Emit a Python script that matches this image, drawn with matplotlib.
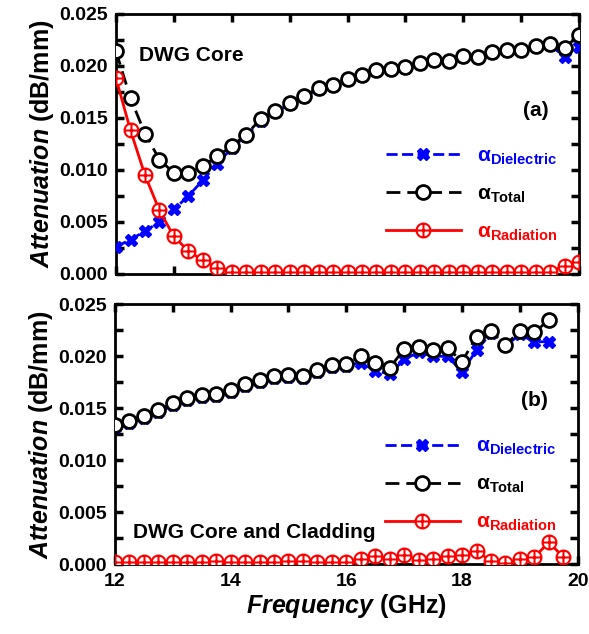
import numpy as np
import matplotlib
matplotlib.use("Agg")
import matplotlib.pyplot as plt
from matplotlib.path import Path
from matplotlib.ticker import MultipleLocator, FormatStrFormatter

plt.rcParams['font.family'] = ['Liberation Sans', 'DejaVu Sans']
plt.rcParams['font.weight'] = 'bold'
plt.rcParams['axes.labelweight'] = 'bold'
plt.rcParams['mathtext.fontset'] = 'custom'
plt.rcParams['mathtext.rm'] = 'Liberation Sans:bold'
plt.rcParams['mathtext.it'] = 'Liberation Sans:bold:italic'
plt.rcParams['mathtext.bf'] = 'Liberation Sans:bold'

# -----------------------------
# Data (a) : DWG core
# -----------------------------
freq_a = [12.0, 12.25, 12.5, 12.75, 13.0, 13.25, 13.5, 13.75, 14.0, 14.25, 14.5,
          14.75, 15.0, 15.25, 15.5, 15.75, 16.0, 16.25, 16.5, 16.75, 17.0, 17.25,
          17.5, 17.75, 18.0, 18.25, 18.5, 18.75, 19.0, 19.25, 19.5, 19.75, 20.0]
total_a = [0.0214, 0.0169, 0.0135, 0.0110, 0.0097, 0.0097, 0.0104, 0.0113, 0.0123,
           0.0134, 0.0149, 0.0157, 0.0164, 0.0171, 0.0179, 0.0182, 0.0187, 0.0191,
           0.0196, 0.0197, 0.0199, 0.0203, 0.0206, 0.0205, 0.0210, 0.0209, 0.0213,
           0.0215, 0.0215, 0.0219, 0.0221, 0.0217, 0.0230]
diel_a = [0.0026, 0.0033, 0.0041, 0.0050, 0.0062, 0.0075, 0.0090, 0.0106, 0.0121,
          0.0133, 0.0147, 0.0156, 0.0163, 0.0170, 0.0178, 0.0181, 0.0186, 0.0190,
          0.0195, 0.0196, 0.0198, 0.0202, 0.0205, 0.0204, 0.0209, 0.0208, 0.0212,
          0.0214, 0.0214, 0.0218, 0.0220, 0.0209, 0.0218]
rad_a = [0.0188, 0.0138, 0.0095, 0.0061, 0.0036, 0.0022, 0.0013, 0.0006, 0.0002,
         0.0002, 0.0002, 0.0002, 0.0002, 0.0002, 0.0002, 0.0002, 0.0002, 0.0002,
         0.0002, 0.0002, 0.0002, 0.0002, 0.0002, 0.0002, 0.0002, 0.0002, 0.0002,
         0.0002, 0.0002, 0.0002, 0.0002, 0.0008, 0.0011]

# -----------------------------
# Data (b) : DWG core + cladding
# -----------------------------
freq_b = [12.0, 12.25, 12.5, 12.75, 13.0, 13.25, 13.5, 13.75, 14.0, 14.25, 14.5,
          14.75, 15.0, 15.25, 15.5, 15.75, 16.0, 16.25, 16.5, 16.75, 17.0, 17.25,
          17.5, 17.75, 18.0, 18.25, 18.5, 18.75, 19.0, 19.25, 19.5]
total_b = [0.0134, 0.0138, 0.0143, 0.0148, 0.0155, 0.0160, 0.0163, 0.0164, 0.0168,
           0.0173, 0.0177, 0.0181, 0.0182, 0.0181, 0.0187, 0.0192, 0.0193, 0.0200,
           0.0194, 0.0189, 0.0207, 0.0209, 0.0206, 0.0208, 0.0195, 0.0219, 0.0224,
           0.0211, 0.0224, 0.0223, 0.0235]
diel_b = [0.0132, 0.0136, 0.0141, 0.0146, 0.0153, 0.0158, 0.0161, 0.0162, 0.0166,
          0.0171, 0.0175, 0.0179, 0.0180, 0.0179, 0.0185, 0.0190, 0.0191, 0.0194,
          0.0186, 0.0183, 0.0197, 0.0204, 0.0200, 0.0200, 0.0185, 0.0206, 0.0222,
          0.0210, 0.0221, 0.0214, 0.0214]
freq_rb = [12.0, 12.25, 12.5, 12.75, 13.0, 13.25, 13.5, 13.75, 14.0, 14.25, 14.5,
           14.75, 15.0, 15.25, 15.5, 15.75, 16.0, 16.25, 16.5, 16.75, 17.0, 17.25,
           17.5, 17.75, 18.0, 18.25, 18.5, 18.75, 19.0, 19.25, 19.5, 19.75]
rad_b = [0.0002, 0.0002, 0.0002, 0.0002, 0.0002, 0.0002, 0.0002, 0.0003, 0.0002,
         0.0002, 0.0002, 0.0002, 0.0003, 0.0003, 0.0002, 0.0002, 0.0002, 0.0005,
         0.0008, 0.0005, 0.0009, 0.0004, 0.0005, 0.0008, 0.0009, 0.0013, 0.0003,
         0.0001, 0.0005, 0.0007, 0.0021, 0.0007]

# marqueur cercle + croix
circ = Path.unit_circle()
plus = Path([(-1, 0), (1, 0), (0, -1), (0, 1)],
            [Path.MOVETO, Path.LINETO, Path.MOVETO, Path.LINETO])
oplus = Path.make_compound_path(circ, plus)

fig = plt.figure(figsize=(5.89, 6.34), dpi=100)
ax1 = fig.add_axes([0.197, 0.568, 0.786, 0.410])
ax2 = fig.add_axes([0.195, 0.110, 0.786, 0.410])

labels = [r'$\mathrm{\alpha}_{\mathrm{Dielectric}}$', r'$\mathrm{\alpha}_{\mathrm{Total}}$',
          r'$\mathrm{\alpha}_{\mathrm{Radiation}}$']

def draw(ax, fd, d, t, fr, r):
    h1, = ax.plot(fd, d, color='blue', ls=(0, (4, 1.6)), lw=2, marker='X',
                  ms=9, mec='blue', mfc='blue', zorder=3)
    h2, = ax.plot(fd, t, color='black', ls=(0, (5, 2.5)), lw=2, marker='o',
                  ms=10, mec='black', mfc='white', mew=2, zorder=4)
    h3, = ax.plot(fr, r, color='red', ls='-', lw=2, marker=oplus,
                  ms=10, mec='red', mfc='white', mew=1.5, zorder=5)
    ax.set_xlim(12, 20)
    ax.set_ylim(0, 0.025)
    ax.xaxis.set_major_locator(MultipleLocator(2))
    ax.xaxis.set_minor_locator(MultipleLocator(1))
    ax.yaxis.set_major_locator(MultipleLocator(0.005))
    ax.yaxis.set_minor_locator(MultipleLocator(0.0025))
    ax.yaxis.set_major_formatter(FormatStrFormatter('%.3f'))
    ax.tick_params(which='both', direction='in', top=True, right=True,
                   length=6, width=2.5, labelsize=14, pad=6)
    for s in ax.spines.values():
        s.set_linewidth(2)
    ax.set_ylabel(r'$\mathit{Attenuation}$ (dB/mm)', fontsize=18, labelpad=2)
    ax.legend([h1, h2, h3], labels, loc='upper left', bbox_to_anchor=(0.56, 0.53),
              frameon=False, fontsize=15, handlelength=3.6, labelspacing=0.85,
              labelcolor='linecolor', borderpad=0)
    return ax

draw(ax1, freq_a, diel_a, total_a, freq_a, rad_a)
draw(ax2, freq_b, diel_b, total_b, freq_rb, rad_b)
ax1.tick_params(labelbottom=False)

ax1.text(0.05, 0.84, 'DWG Core', transform=ax1.transAxes, fontsize=15, va='center')
ax1.text(0.935, 0.63, '(a)', transform=ax1.transAxes, fontsize=15, ha='right', va='center')
ax2.text(0.04, 0.123, 'DWG Core and Cladding', transform=ax2.transAxes, fontsize=15,
         va='center')
ax2.text(0.935, 0.63, '(b)', transform=ax2.transAxes, fontsize=15, ha='right', va='center')

ax2.set_xlabel(r'$\mathit{Frequency}$ (GHz)', fontsize=18, labelpad=2)

fig.savefig('out.png', dpi=100)
